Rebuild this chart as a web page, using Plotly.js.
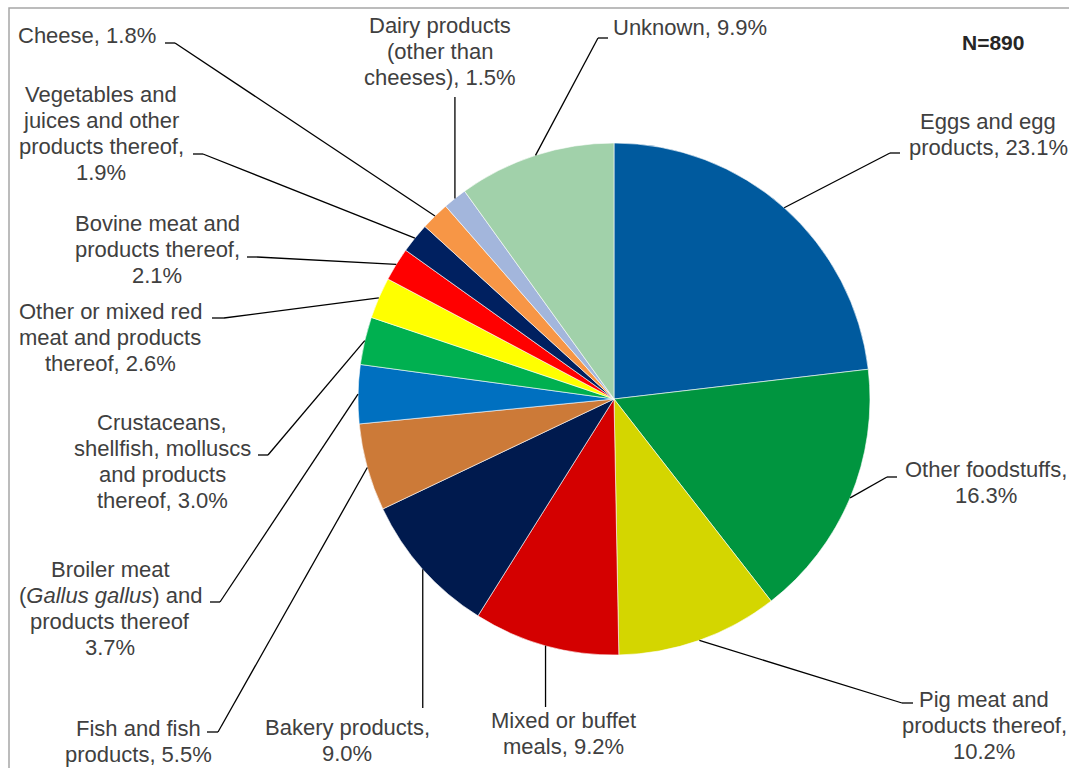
<!DOCTYPE html>
<html><head><meta charset="utf-8">
<script src="https://cdn.plot.ly/plotly-3.0.1.min.js"></script>
<style>html,body{margin:0;padding:0;background:#fff;overflow:hidden}#chart{width:1069px;height:768px}</style>
</head><body><div id="chart"></div>
<script>
// ---------- data ----------
const categories = [
  "Eggs and egg products",
  "Other foodstuffs",
  "Pig meat and products thereof",
  "Mixed or buffet meals",
  "Bakery products",
  "Fish and fish products",
  "Broiler meat (Gallus gallus) and products thereof",
  "Crustaceans, shellfish, molluscs and products thereof",
  "Other or mixed red meat and products thereof",
  "Bovine meat and products thereof",
  "Vegetables and juices and other products thereof",
  "Cheese",
  "Dairy products (other than cheeses)",
  "Unknown"
];
const values = [23.1, 16.3, 10.2, 9.2, 9.0, 5.5, 3.7, 3.0, 2.6, 2.1, 1.9, 1.8, 1.5, 9.9];
const colors = ["#005A9E", "#00953F", "#D4D600", "#D40000", "#001A4E", "#CC7A38", "#0070C0",
                "#00B050", "#FFFF00", "#FF0000", "#002060", "#F79646", "#A3B6DC", "#A1D1AA"];
// label text lines; {v} is replaced by the value
const labelLines = [
  ["Eggs and egg", "products, {v}"],
  ["Other foodstuffs,", "{v}"],
  ["Pig meat and", "products thereof,", "{v}"],
  ["Mixed or buffet", "meals, {v}"],
  ["Bakery products,", "{v}"],
  ["Fish and fish", "products, {v}"],
  ["Broiler meat", "(<i>Gallus gallus</i>) and", "products thereof", "{v}"],
  ["Crustaceans,", "shellfish, molluscs", "and products", "thereof, {v}"],
  ["Other or mixed red", "meat and products", "thereof, {v}"],
  ["Bovine meat and", "products thereof,", "{v}"],
  ["Vegetables and", "juices and other", "products thereof,", "{v}"],
  ["Cheese, {v}"],
  ["Dairy products", "(other than", "cheeses), {v}"],
  ["Unknown, {v}"]
];
const sampleSize = "N=890";

// ---------- layout (pixels) ----------
const W = 1069, H = 768, CX = 614, CY = 399, R = 256, LS = 26;
const place = [
  {x: 988, b: 129, tick: [900, 890, 153]},
  {x: 986, b: 477, tick: [897, 887, 477]},
  {x: 984, b: 707, tick: [913, 902, 703]},
  {x: 563, b: 728, vEnd: 707},
  {x: 347, b: 735, vEnd: 708},
  {x: 138, b: 736, tick: [207, 218, 732]},
  {x: 110, b: 577, tick: [210, 220, 602]},
  {x: 162, b: 430, tick: [258, 268, 455]},
  {x: 110, b: 319, tick: [212, 224, 318]},
  {x: 157, b: 231, tick: [247, 257, 257]},
  {x: 101, b: 102, tick: [193, 203, 154]},
  {x: 87,  b: 43,  tick: [165, 175, 43]},
  {x: 440, b: 33,  vEnd: 97},
  {x: 690, b: 35,  tick: [608, 598, 38]}
];
const px = x => x / W;
const py = y => 1 - y / H;
const textFont = {family: "Liberation Sans, Arial, sans-serif", size: 22, color: "#404040"};
const lineStyle = {color: "#000000", width: 1.3};

const total = values.reduce((a, b) => a + b, 0);
const shapes = [];
const annotations = [];

// frame
shapes.push({type: "rect", xref: "paper", yref: "paper", x0: px(9), y0: py(8), x1: px(1080), y1: py(780),
  line: {color: "#a6a6a6", width: 1.5}, fillcolor: "rgba(0,0,0,0)", layer: "below"});

let cum = 0;
values.forEach((v, i) => {
  const theta = 2 * Math.PI * (cum + v / 2) / total;
  cum += v;
  const sx = CX + R * Math.sin(theta);
  const sy = CY - R * Math.cos(theta);
  const p = place[i];
  if (p.tick) {
    const [x0, x1, ty] = p.tick;
    shapes.push({type: "line", xref: "paper", yref: "paper", x0: px(x0), y0: py(ty), x1: px(x1), y1: py(ty), line: lineStyle});
    shapes.push({type: "line", xref: "paper", yref: "paper", x0: px(x1), y0: py(ty), x1: px(sx), y1: py(sy), line: lineStyle});
  } else {
    shapes.push({type: "line", xref: "paper", yref: "paper", x0: px(sx), y0: py(sy), x1: px(sx), y1: py(p.vEnd), line: lineStyle});
  }
  labelLines[i].forEach((t, k) => {
    annotations.push({
      xref: "paper", yref: "paper", x: px(p.x), y: py(p.b + k * LS - 7.6),
      xanchor: "center", yanchor: "middle", showarrow: false,
      text: t.replace("{v}", v.toFixed(1) + "%"), font: textFont
    });
  });
});

annotations.push({xref: "paper", yref: "paper", x: px(993), y: py(42), xanchor: "center", yanchor: "middle",
  showarrow: false, text: "<b>" + sampleSize + "</b>",
  font: {family: "Liberation Sans, Arial, sans-serif", size: 21, color: "#262626"}});

const trace = {
  type: "pie",
  labels: categories,
  values: values,
  marker: {colors: colors, line: {color: "#ffffff", width: 0.6}},
  sort: false,
  direction: "clockwise",
  rotation: 0,
  textinfo: "none",
  hoverinfo: "label+percent",
  showlegend: false,
  domain: {x: [(CX - R) / W, (CX + R) / W], y: [1 - (CY + R) / H, 1 - (CY - R) / H]}
};

const layout = {
  width: W, height: H,
  margin: {l: 0, r: 0, t: 0, b: 0},
  paper_bgcolor: "#ffffff",
  showlegend: false,
  shapes: shapes,
  annotations: annotations
};

Plotly.newPlot("chart", [trace], layout, {displayModeBar: false, staticPlot: true});
</script>
</body></html>
